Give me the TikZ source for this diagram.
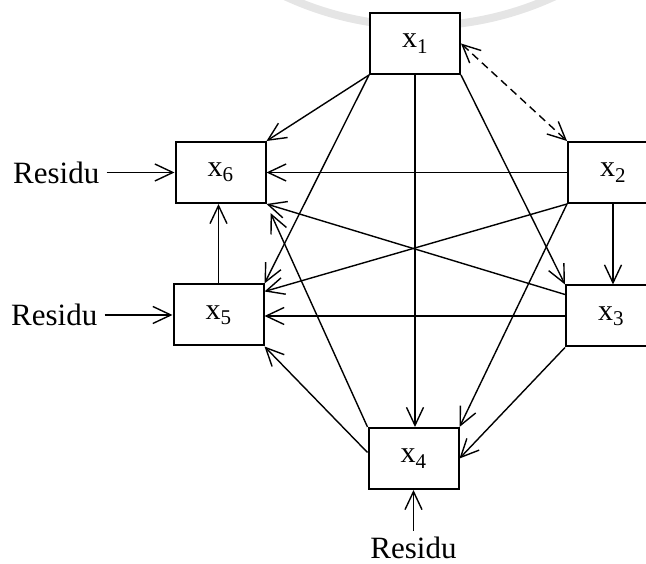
\documentclass[tikz,border=0pt]{standalone}
\usepackage{fontspec}
\setmainfont{Liberation Serif}
\usepackage{tikz}
\usetikzlibrary{arrows.meta, positioning}

\begin{document}
\begin{tikzpicture}[x=1pt, y=1pt]
	\tikzset{
		node distance=68pt and 68pt,
		>={Straight Barb[length=18pt, width=17pt]},
		var/.style={rectangle, draw, solid, black, fill=white, line width=2pt,
		minimum width=90pt, minimum height=61pt, inner sep=0pt, font=\fontsize{30}{36}\selectfont},
		res/.style={inner xsep=7pt, inner ysep=6pt, font=\fontsize{31}{36}\selectfont},
		link/.style={line width=1.4pt}
	}
	\useasboundingbox (0,0) rectangle (646,564);
	% pale ring behind the top box
	\draw[gray!20, line width=8pt] (420,859) ++(244:321) arc (244:296:321);

	\node[var] (x1) at (415,520.5) {x\textsubscript{1}};
	\node[var] (x2) at (613,391.5) {x\textsubscript{2}};
	\node[var] (x3) at (611,248) {x\textsubscript{3}};
	\node[var] (x4) at (413.5,105.5) {x\textsubscript{4}};
	\node[var] (x5) at (218.5,249) {x\textsubscript{5}};
	\node[var] (x6) at (220.5,391.5) {x\textsubscript{6}};

	\node[res, left=of x6](r6){Residu};
	\node[res, left=of x5](r5){Residu};
	\node[res, below=41pt of x4](r4){Residu};

	\draw[link, <->, dash pattern=on 8pt off 5pt](x1.east) -- (x2.north west);
	\draw[link, ->](x1.south west) -- (x6.north east);
	\draw[link, ->](x1.south west) -- (x5.north east);
	\draw[link, ->](x1.south) -- (x1.south |- x4.north);
	\draw[link, ->](x1.south east) -- (x3.north west);
	\draw[link, ->](x2.west) -- (x6.east);
	\draw[link, ->](x2.south) -- (x2.south |- x3.north);
	\draw[link, ->](x2.south west) -- ([yshift=-8pt]x5.north east);
	\draw[link, ->](x2.south west) -- (x4.north east);
	\draw[link, ->]([yshift=-10pt]x3.north west) -- (x6.south east);
	\draw[link, ->](x3.west) -- (x3.west -| x5.east);
	\draw[link, ->](x3.south west) -- (x4.east);
	\draw[link, ->, shorten >=10pt](x4.north west) -- (x6.south east);
	\draw[link, ->]([yshift=6pt]x4.west) -- (x5.south east);
	\draw[link, ->](x5.north) -- (x5.north |- x6.south);

	\draw[link, ->](r6) -- (x6);
	\draw[link, ->](r5) -- (x5);
	\draw[link, ->](r4) -- (x4);
\end{tikzpicture}
\end{document}
